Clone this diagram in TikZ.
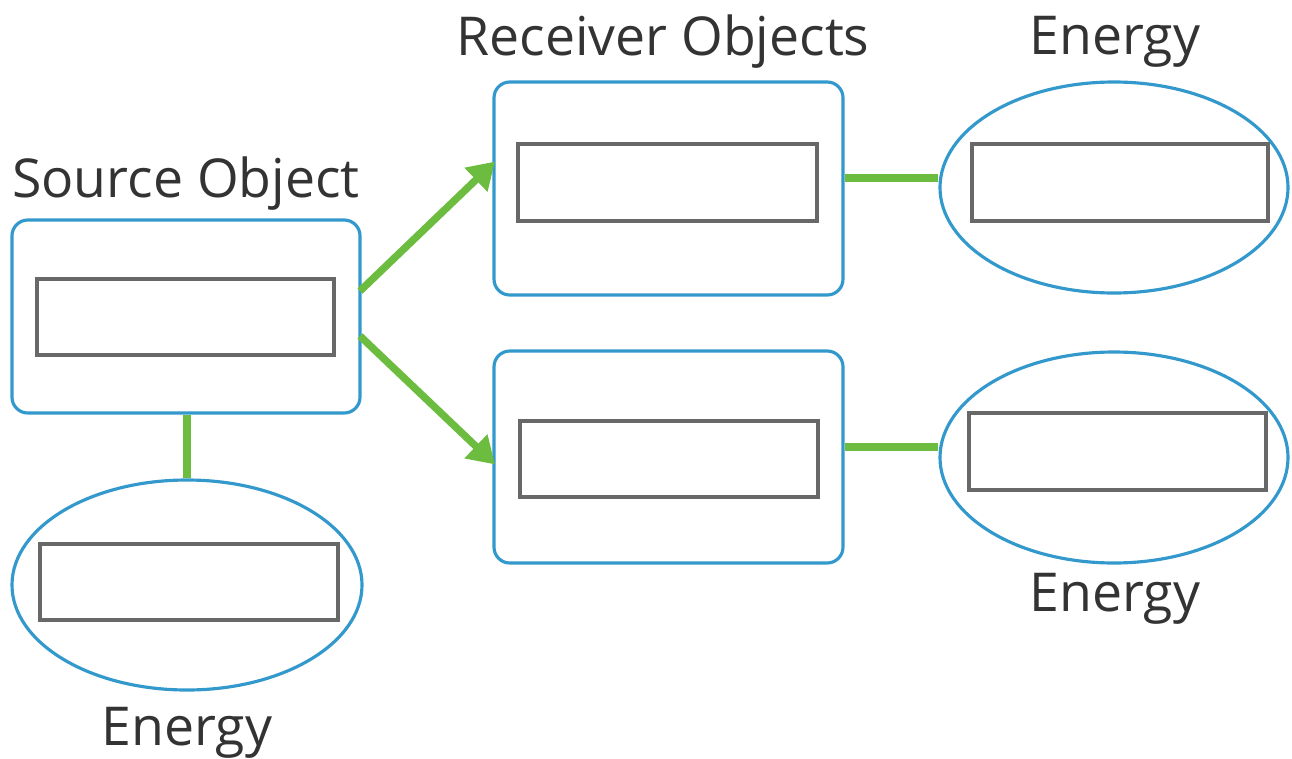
\documentclass[tikz,border=0pt]{standalone}
\usepackage{fontspec}
\setmainfont{Open Sans}
\usetikzlibrary{arrows.meta,shapes.geometric}
\definecolor{bblue}{HTML}{3399CC}
\definecolor{lgreen}{HTML}{6CBD3F}
\definecolor{igray}{HTML}{686868}
\definecolor{tgray}{HTML}{333333}
\tikzset{
  obj/.style={draw=bblue, line width=1.8pt, rounded corners=9pt, fill=white},
  eng/.style={draw=bblue, line width=1.8pt, ellipse, fill=white},
  slot/.style={draw=igray, line width=2pt, fill=white},
  link/.style={draw=lgreen, line width=4.2pt},
  arr/.style={link, -{Triangle[length=15pt,width=18pt]}, shorten >=-2pt},
  lbl/.style={text=tgray, font=\fontsize{30.5}{36}\selectfont, inner sep=0pt}
}
\begin{document}
\begin{tikzpicture}[x=0.02cm,y=-0.02cm]
\useasboundingbox (0,0) rectangle (1292,758);
% boxes
\node[obj, minimum width=348*0.02cm, minimum height=193*0.02cm] (src) at (186,316.5) {};
\node[obj, minimum width=349*0.02cm, minimum height=213*0.02cm] (r1) at (668.5,188.5) {};
\node[obj, minimum width=349*0.02cm, minimum height=212*0.02cm] (r2) at (668.5,457) {};
% ellipses
\node[eng, minimum width=348*0.02cm, minimum height=211*0.02cm, inner sep=0pt] (e1) at (1114,187.5) {};
\node[eng, minimum width=348*0.02cm, minimum height=211*0.02cm, inner sep=0pt] (e2) at (1114,457.5) {};
\node[eng, minimum width=350*0.02cm, minimum height=210*0.02cm, inner sep=0pt] (e0) at (187,585) {};
% inner slots
\node[slot, minimum width=297*0.02cm, minimum height=76*0.02cm] (s0) at (185.5,317) {};
\node[slot, minimum width=299*0.02cm, minimum height=77*0.02cm] (s1) at (667.5,182.5) {};
\node[slot, minimum width=298*0.02cm, minimum height=76*0.02cm] (s2) at (669,459) {};
\node[slot, minimum width=296*0.02cm, minimum height=77*0.02cm] (s3) at (1120,182.5) {};
\node[slot, minimum width=297*0.02cm, minimum height=77*0.02cm] (s4) at (1117.5,451.5) {};
\node[slot, minimum width=298*0.02cm, minimum height=76*0.02cm] (s5) at (189,582) {};
% connectors
\coordinate (a1s) at (360,291);
\coordinate (a2s) at (360,336);
\draw[link] (src.south -| e0.north) -- (e0.north);
\draw[link] (r1.east |- 0,178) -- (e1.west |- 0,178);
\draw[link] (r2.east |- 0,447) -- (e2.west |- 0,447);
\draw[arr] (a1s) -- (r1.west |- 0,164);
\draw[arr] (a2s) -- (r2.west |- 0,462);
% labels
\node[lbl] (tsrc) at (186,184) {Source Object};
\node[lbl] (trec) at (663,42) {Receiver Objects};
\node[lbl] (te1) at (1115,42) {Energy};
\node[lbl] (te2) at (1115,599) {Energy};
\node[lbl] (te0) at (187,733) {Energy};
\end{tikzpicture}
\end{document}
